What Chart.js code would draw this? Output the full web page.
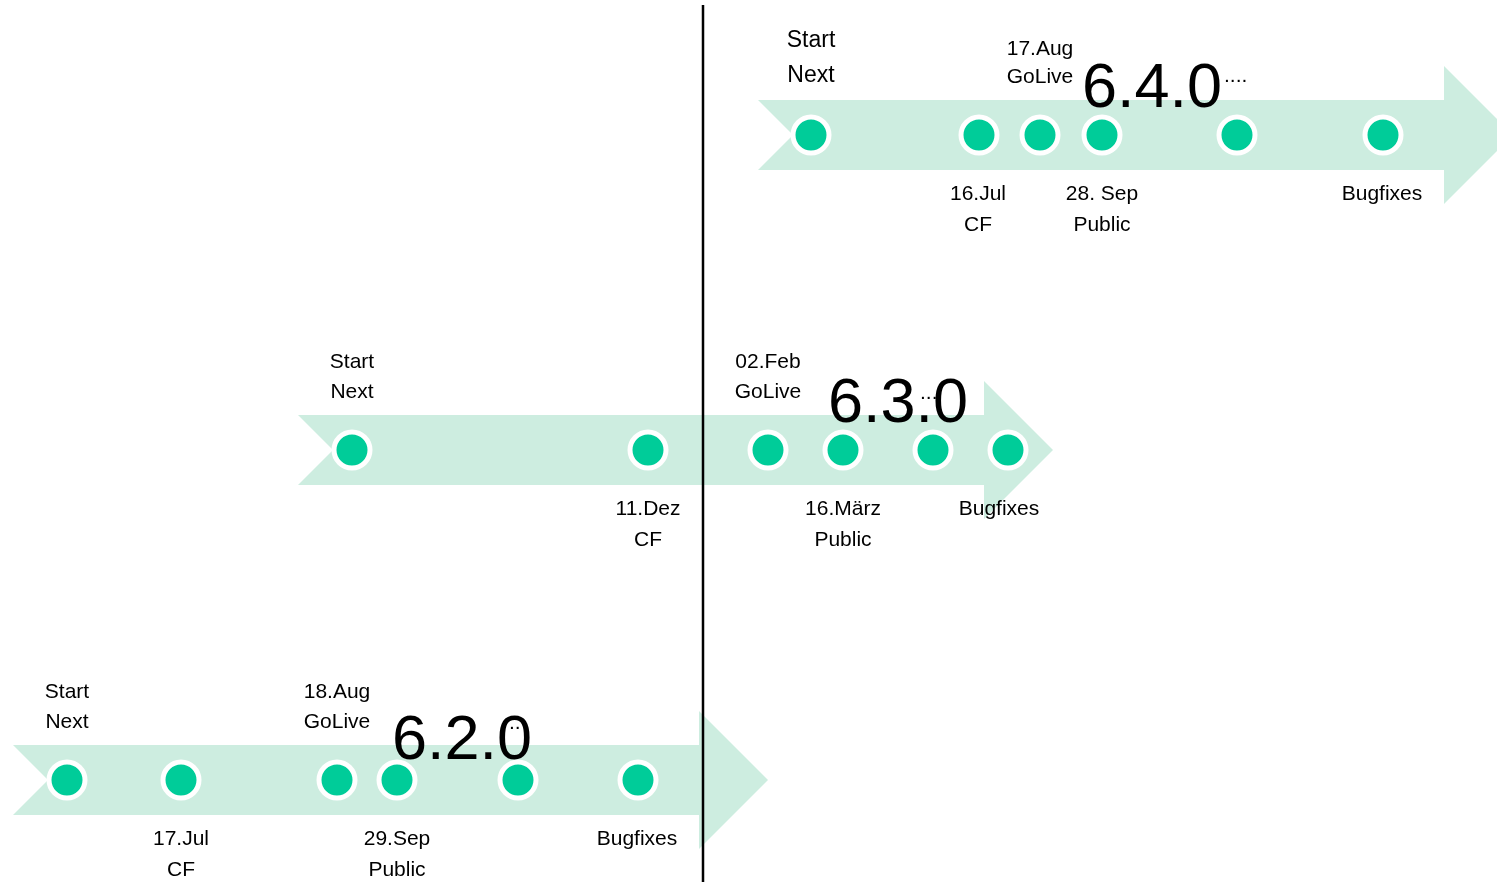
<!DOCTYPE html>
<html><head><meta charset="utf-8">
<script src="https://cdn.jsdelivr.net/npm/chart.js@4"></script>
<style>html,body{margin:0;padding:0;background:#fff;overflow:hidden}canvas{display:block}</style>
</head><body><canvas id="c" width="1497" height="882"></canvas>
<script>
// ---- data ----
const releases = ["6.4.0", "6.3.0", "6.2.0"];
const laneY = [135, 450, 780];
const arrowFrom = [758, 298, 13];
const arrowTo = [1513, 1053, 768];
const milestones640 = [811, 979, 1040, 1102, 1237, 1383];
const milestones630 = [352, 648, 768, 843, 933, 1008];
const milestones620 = [67, 181, 337, 397, 518, 638];
const labelsAbove640 = [[811, "Start", "Next"], [1040, "17.Aug", "GoLive"]];
const labelsBelow640 = [[978, "16.Jul", "CF"], [1102, "28. Sep", "Public"], [1382, "Bugfixes"]];
const labelsAbove630 = [[352, "Start", "Next"], [768, "02.Feb", "GoLive"]];
const labelsBelow630 = [[648, "11.Dez", "CF"], [843, "16.März", "Public"], [999, "Bugfixes"]];
const labelsAbove620 = [[67, "Start", "Next"], [337, "18.Aug", "GoLive"]];
const labelsBelow620 = [[181, "17.Jul", "CF"], [397, "29.Sep", "Public"], [637, "Bugfixes"]];
const versionX = [1152, 898, 462];
const trailDots = ["....", "...", ".."];
const trailX = [1224, 920, 509];
const dividerX = 703;
const dividerY = [5, 882];

// ---- styles ----
const FONT = '"Liberation Sans", Arial, Helvetica, sans-serif';
const ARROW = '#cdede0';
const DOT = '#00cc99';
const milestones = [milestones640, milestones630, milestones620];
const above = [labelsAbove640, labelsAbove630, labelsAbove620];
const below = [labelsBelow640, labelsBelow630, labelsBelow620];

const bgPlugin = {
  id: 'arrows',
  beforeDatasetsDraw(chart) {
    const {ctx, scales: {x, y}} = chart;
    ctx.save();
    ctx.fillStyle = ARROW;
    laneY.forEach((ly, i) => {
      const bodyH = 35, headH = 69, notch = 35, headL = 69;
      const x0 = x.getPixelForValue(arrowFrom[i]);
      const x1 = x.getPixelForValue(arrowTo[i]);
      const yc = y.getPixelForValue(ly);
      const hx = x1 - headL;
      ctx.beginPath();
      ctx.moveTo(x0, yc - bodyH);
      ctx.lineTo(hx, yc - bodyH);
      ctx.lineTo(hx, yc - headH);
      ctx.lineTo(x1, yc);
      ctx.lineTo(hx, yc + headH);
      ctx.lineTo(hx, yc + bodyH);
      ctx.lineTo(x0, yc + bodyH);
      ctx.lineTo(x0 + notch, yc);
      ctx.closePath();
      ctx.fill();
    });
    ctx.restore();
  },
  afterDatasetsDraw(chart) {
    const {ctx, scales: {x, y}} = chart;
    ctx.save();
    ctx.fillStyle = '#000';
    ctx.textAlign = 'center';
    ctx.textBaseline = 'alphabetic';
    laneY.forEach((ly, i) => {
      const yc = y.getPixelForValue(ly);
      above[i].forEach((lab, j) => {
        const px = x.getPixelForValue(lab[0]);
        const big = (i === 0 && j === 0);
        ctx.font = (big ? 23 : 21) + 'px ' + FONT;
        const o1 = big ? -88 : (i === 0 ? -80 : -82);
        const o2 = big ? -53 : -52;
        ctx.fillText(lab[1], px, yc + o1);
        if (lab[2]) ctx.fillText(lab[2], px, yc + o2);
      });
      ctx.font = '21px ' + FONT;
      below[i].forEach(lab => {
        const px = x.getPixelForValue(lab[0]);
        ctx.fillText(lab[1], px, yc + 65);
        if (lab[2]) ctx.fillText(lab[2], px, yc + 96);
      });
      ctx.font = '63px ' + FONT;
      ctx.fillText(releases[i], x.getPixelForValue(versionX[i]), yc + (i === 2 ? -21 : -28));
      ctx.font = '21px ' + FONT;
      ctx.textAlign = 'left';
      ctx.fillText(trailDots[i], x.getPixelForValue(trailX[i]), yc + (i === 0 ? -53 : -51));
      ctx.textAlign = 'center';
    });
    ctx.restore();
  }
};

const datasets = milestones.map((m, i) => ({
  type: 'scatter',
  label: releases[i],
  data: m.map(v => ({x: v, y: laneY[i]})),
  pointRadius: 18,
  pointBorderWidth: 5,
  pointBackgroundColor: DOT,
  pointBorderColor: '#ffffff',
  pointHoverRadius: 18,
  clip: false,
  order: 1
}));
datasets.push({
  type: 'line',
  label: 'divider',
  data: dividerY.map(v => ({x: dividerX, y: v})),
  borderColor: '#000',
  borderWidth: 2.5,
  pointRadius: 0,
  fill: false,
  clip: false,
  order: 2
});

new Chart(document.getElementById('c'), {
  type: 'scatter',
  data: {datasets},
  options: {
    responsive: false,
    animation: false,
    events: [],
    layout: {padding: 0, autoPadding: false},
    plugins: {legend: {display: false}, tooltip: {enabled: false}},
    scales: {
      x: {type: 'linear', min: 0, max: 1497, display: false},
      y: {type: 'linear', min: 0, max: 882, reverse: true, display: false}
    }
  },
  plugins: [bgPlugin]
});
</script></body></html>
